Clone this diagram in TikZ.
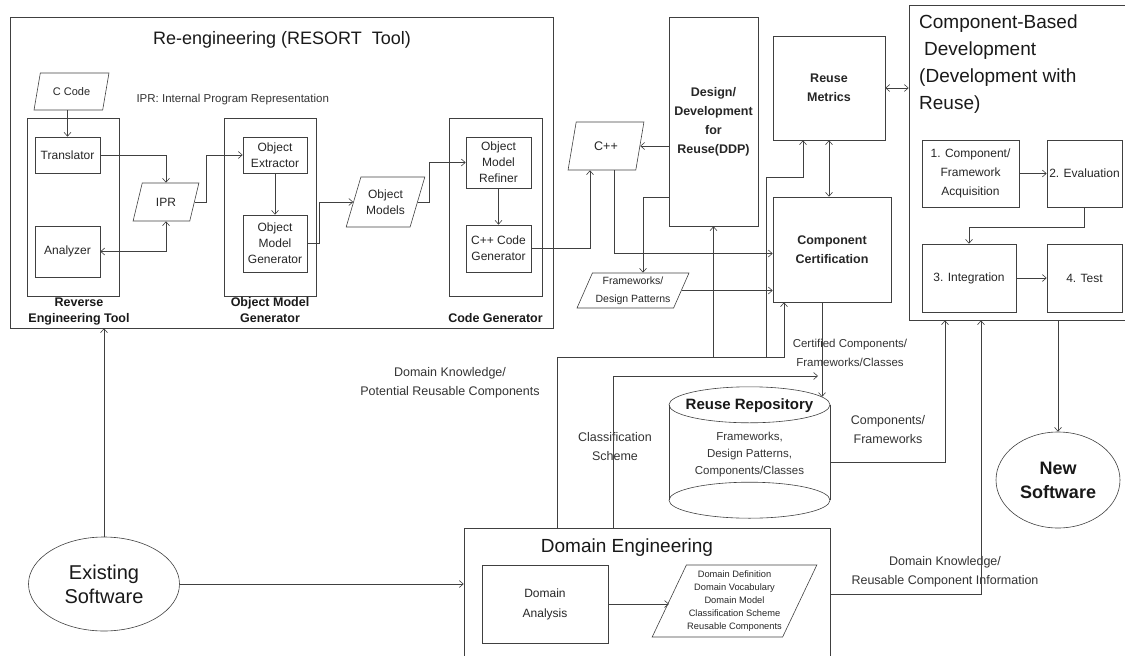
\documentclass[tikz,border=0pt]{standalone}
\usepackage{fontspec}
\setmainfont{Liberation Sans}
\usetikzlibrary{shapes.geometric, arrows.meta, positioning}

\tikzstyle{box} = [rectangle, draw=black!75, line width=0.6pt, align=center, inner sep=1pt, text=black!85, font=\fontsize{12}{16}\selectfont]
\tikzstyle{bbox} = [box, font=\bfseries\fontsize{12.5}{19}\selectfont]
\tikzstyle{group} = [rectangle, draw=black!75, line width=0.6pt, inner sep=0pt]
\tikzstyle{io} = [trapezium, trapezium left angle=65, trapezium right angle=115, trapezium stretches=true, draw=black!75, line width=0.6pt, align=center, inner sep=0pt, text=black!85, font=\fontsize{12}{16}\selectfont]
\tikzstyle{blob} = [ellipse, draw=black!75, line width=0.6pt, align=center, inner sep=0pt, text=black!90, font=\fontsize{20}{24}\selectfont]
\tikzstyle{note} = [align=center, text=black!80, font=\fontsize{12.5}{19}\selectfont]
\tikzstyle{grouplabel} = [align=center, text=black!90, inner sep=0pt, font=\bfseries\fontsize{12.5}{16}\selectfont]
\tikzstyle{link} = [line width=0.6pt, draw=black!75]
\tikzstyle{arrow} = [link, ->, >={Straight Barb[length=4pt,width=7pt]}]

\begin{document}
\begin{tikzpicture}[x=1pt, y=-1pt]
   \useasboundingbox (0,0) rectangle (1125,656);
   \clip (0,0) rectangle (1125,656);

   % re-engineering (RESORT)
   \node (reeng) [group, minimum width=543pt, minimum height=311pt] at (281.5,172.5) {};
   \node (reengtitle) [text=black!90, font=\fontsize{18}{20}\selectfont] at (282,40) {Re-engineering (RESORT~ Tool)};
   \node (iprnote) [anchor=west, text=black!80, font=\fontsize{11.5}{13}\selectfont] at (133,100) {IPR: Internal Program Representation};
   \node (ccode) [io, minimum width=75pt, minimum height=37pt, font=\fontsize{11}{13}\selectfont] at (71.5,91.5) {C Code};

   \node (rev) [group, minimum width=92pt, minimum height=178pt] at (73,207) {};
   \node (trans) [box, minimum width=65pt, minimum height=36pt] at (67.5,155) {Translator};
   \node (anal) [box, minimum width=65pt, minimum height=51pt] at (67.5,251.5) {Analyzer};
   \node (revlbl) [grouplabel, below=1pt of rev, xshift=6pt] {Reverse\\Engineering Tool};

   \node (ipr) [io, minimum width=66pt, minimum height=38pt] at (166,202) {IPR};

   \node (omgc) [group, minimum width=92pt, minimum height=178pt] at (270,207) {};
   \node (oe) [box, minimum width=64pt, minimum height=36pt] at (275,155) {Object\\Extractor};
   \node (omgi) [box, minimum width=64pt, minimum height=57pt] at (275,243.5) {Object\\Model\\Generator};
   \node (omglbl) [grouplabel, below=1pt of omgc] {Object Model\\Generator};

   \node (om) [io, minimum width=79pt, minimum height=50pt] at (385.5,202) {Object\\Models};

   \node (cgc) [group, minimum width=93pt, minimum height=178pt] at (495.5,207) {};
   \node (omr) [box, minimum width=65pt, minimum height=51pt] at (498.5,162.5) {Object\\Model\\Refiner};
   \node (ccg) [box, minimum width=65pt, minimum height=47pt] at (498.5,248.5) {C++ Code\\Generator};
   \node (cglbl) [grouplabel, below=17pt of cgc] {Code Generator};

   % design for reuse / certification
   \node (cpp) [io, trapezium left angle=70, trapezium right angle=110, minimum width=76pt, minimum height=48pt, font=\fontsize{12.5}{15}\selectfont] at (606,146) {C++};
   \node (ddp) [bbox, minimum width=89pt, minimum height=209pt] at (713.5,121.5) {Design/\\Development\\for\\Reuse(DDP)};
   \node (rm) [bbox, minimum width=112pt, minimum height=104pt] at (829,88) {Reuse\\Metrics};
   \node (cc) [bbox, minimum width=118pt, minimum height=105pt] at (832,249.5) {Component\\Certification};
   \node (fw) [io, trapezium left angle=63, trapezium right angle=117, minimum width=112pt, minimum height=35pt, font=\fontsize{10.5}{18}\selectfont] at (633,290.5) {Frameworks/\\Design Patterns};

   % component-based development
   \node (cbd) [group, minimum width=221pt, minimum height=315pt] at (1019.5,162.5) {};
   \node (cbdtitle) [anchor=north west, align=left, text=black!90, inner sep=0pt, font=\fontsize{19}{27}\selectfont] at (919,15) {Component-Based\\\hspace{5pt}Development\\(Development with\\Reuse)};
   \node (c1) [box, minimum width=97pt, minimum height=67pt, font=\fontsize{12}{19}\selectfont] at (970.5,173.5) {1. Component/\\Framework\\Acquisition};
   \node (c2) [box, minimum width=75pt, minimum height=67pt, font=\fontsize{12}{19}\selectfont] at (1084.5,173.5) {2. Evaluation};
   \node (c3) [box, minimum width=94pt, minimum height=68pt, font=\fontsize{12}{19}\selectfont] at (969,278) {3. Integration};
   \node (c4) [box, minimum width=75pt, minimum height=68pt, font=\fontsize{12}{19}\selectfont] at (1084.5,278) {4. Test};

   \node (ns) [blob, minimum width=124pt, minimum height=96pt, font=\bfseries\fontsize{18}{24}\selectfont] at (1058,480) {New\\Software};
   \node (es) [blob, minimum width=151pt, minimum height=94pt] at (104,584) {Existing\\Software};

   % reuse repository
   \node (repo) [inner sep=0pt, minimum width=161pt, minimum height=131pt] at (749.5,452.5) {};
   \draw[link] ([yshift=-18pt]repo.north) ellipse [x radius=80.5pt, y radius=18pt];
   \draw[link] ([yshift=18pt]repo.south) ellipse [x radius=80.5pt, y radius=18pt];
   \draw[link] ([yshift=-18pt]repo.north west) -- ([yshift=18pt]repo.south west);
   \draw[link] ([yshift=-18pt]repo.north east) -- ([yshift=18pt]repo.south east);
   \node (repotitle) [text=black!90, font=\bfseries\fontsize{15}{17}\selectfont] at ([yshift=-19pt]repo.north) {Reuse Repository};
   \node (repotext) [note, font=\fontsize{11.5}{17}\selectfont] at (749.5,455) {Frameworks,\\Design Patterns,\\Components/Classes};

   % domain engineering
   \node (de) [group, minimum width=366pt, minimum height=172pt] at (647,614) {};
   \node (detitle) [text=black!90, font=\fontsize{19}{21}\selectfont] at (627,548) {Domain Engineering};
   \node (da) [box, minimum width=126pt, minimum height=78pt, font=\fontsize{12}{20}\selectfont] at (545,604) {Domain\\Analysis};
   \node (dp) [io, trapezium left angle=61, trapezium right angle=119, minimum width=165pt, minimum height=72pt, font=\fontsize{9.3}{13}\selectfont] at (734.5,601) {Domain Definition\\Domain Vocabulary\\Domain Model\\Classification Scheme\\Reusable Components};

   % labels
   \node (dklbl) [note] at (450,383) {Domain Knowledge/\\Potential Reusable Components};
   \node (certlbl) [note, font=\fontsize{11.5}{19}\selectfont] at (850,353) {Certified Components/\\Frameworks/Classes};
   \node (cflbl) [note] at (888,430) {Components/\\Frameworks};
   \node (cslbl) [note] at (615,447) {Classification\\Scheme};
   \node (rclbl) [note] at (945,572) {Domain Knowledge/\\Reusable Component Information};

   % connectors: re-engineering
   \draw [arrow] (trans.north |- ccode.south) -- (trans.north);
   \draw [arrow] (trans.east) -| (ipr.north);
   \draw [arrow, <->] (anal.east) -| (ipr.south);
   \draw [arrow] (ipr.east) -- ++(12,0) |- (oe.west);
   \draw [arrow] (oe.south) -- (omgi.north);
   \draw [arrow] (omgi.east) -- ++(12,0) |- (om.west);
   \draw [arrow] (om.east) -- ++(12,0) |- (omr.west);
   \draw [arrow] (omr.south) -- (ccg.north);
   \draw [arrow] (ccg.east) -| ([xshift=-16pt]cpp.south);

   % connectors: design for reuse
   \draw [arrow] ([xshift=8pt]cpp.south) |- ([yshift=-4pt]cc.west);
   \draw [arrow] (cpp.east -| ddp.west) -- (cpp.east);
   \draw [arrow] ([yshift=-75.5pt]ddp.west) -| ([xshift=10pt]fw.north);
   \draw [arrow] (fw.east) -- (fw.east -| cc.west);
   \draw [arrow, <->] (rm.south) -- (rm.south |- cc.north);
   \draw [arrow, <->] (rm.east) -- (rm.east -| cbd.west);

   % connectors: component-based development
   \draw [arrow] (c1.east) -- (c2.west);
   \draw [arrow] (c2.south) -- ++(0,20) -| (c3.north);
   \draw [arrow] (c3.east) -- (c4.west);
   \draw [arrow] (cbd.south -| ns.north) -- (ns.north);

   % connectors: domain engineering
   \coordinate (dk) at (557,357);
   \coordinate (dkrm) at (766,357);
   \coordinate (csend) at (818,376);
   \coordinate (repotop) at (822,397);
   \draw [link] (de.north -| dk) -- (dk);
   \draw [arrow] (dk) -| ([xshift=-48pt]cc.south);
   \draw [arrow] (dk -| ddp.south) -- (ddp.south);
   \draw [arrow] (dkrm) -- ++(0,-180) -| ([xshift=-26pt]rm.south);
   \draw [arrow] ([xshift=-34pt]de.north) |- (csend);
   \draw [arrow] ([xshift=-10pt]cc.south) -- (repotop);
   \draw [arrow] ([yshift=-10pt]repo.east) -| ([xshift=-74.5pt]cbd.south);
   \draw [arrow] ([yshift=20pt]de.east) -| ([xshift=-38.5pt]cbd.south);
   \draw [arrow] (es.north) -- (es.north |- reeng.south);
   \draw [arrow] (es.east) -- (es.east -| de.west);
   \draw [arrow] (da.east) -- (da.east -| dp.west);
\end{tikzpicture}
\end{document}
